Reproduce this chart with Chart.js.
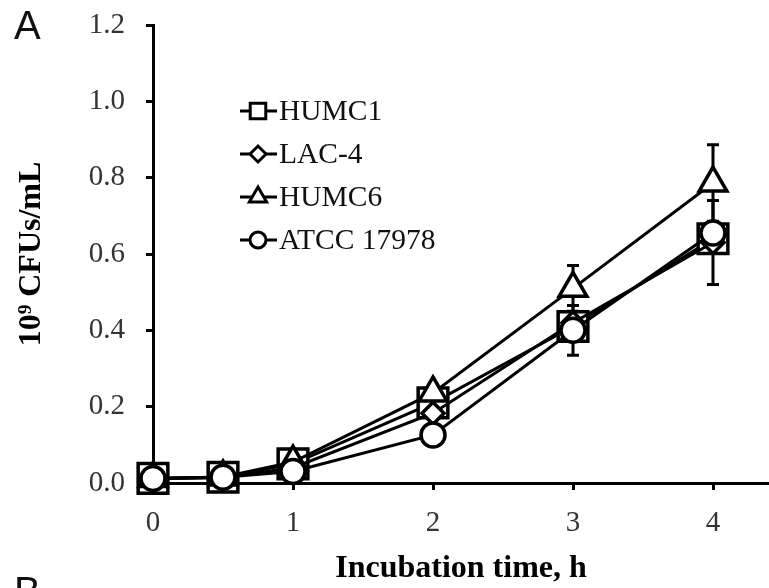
<!DOCTYPE html>
<html>
<head>
<meta charset="utf-8">
<script src="https://cdn.jsdelivr.net/npm/chart.js@4"></script>
<style>
  html, body { margin: 0; padding: 0; background: #fff; }
  canvas { display: block; }
</style>
</head>
<body>
<canvas id="growthChart" width="769" height="588"></canvas>
<script>
// time points (h)
const hours = [0, 0.5, 1, 2, 3, 4];
const xTicks = [0, 1, 2, 3, 4];

// 10^9 CFUs/mL per strain
const humc1 = [0.012, 0.015, 0.05, 0.21, 0.41, 0.64];
const lac4 = [0.012, 0.014, 0.04, 0.183, 0.42, 0.63];
const humc6 = [0.012, 0.016, 0.055, 0.236, 0.51, 0.786];
const atcc17978 = [0.012, 0.015, 0.03, 0.126, 0.40, 0.655];

// error bar half-widths (0 = none visible)
const humc1Err = [0, 0, 0, 0, 0, 0];
const lac4Err = [0, 0, 0, 0, 0, 0.11];
const humc6Err = [0, 0, 0, 0.02, 0.06, 0.10];
const atccErr = [0, 0, 0, 0, 0.065, 0.02];

const strainNames = ['HUMC1', 'LAC-4', 'HUMC6', 'ATCC 17978'];

const serif = "'Liberation Serif', 'Times New Roman', serif";

function toPoints(vals) {
    return hours.map((h, i) => ({ x: h, y: vals[i] }));
}

function makeSet(label, vals, errs, style, radius, order) {
    return {
        label: label,
        data: toPoints(vals),
        errors: errs,
        borderColor: '#000',
        borderWidth: 3,
        pointStyle: style,
        pointRadius: radius,
        pointBorderWidth: 3.5,
        pointBackgroundColor: '#fff',
        pointBorderColor: '#000',
        legendRadius: style === 'rect' ? 11 : (style === 'triangle' ? 10 : 8),
        order: order,
        clip: false,
        tension: 0
    };
}

// draw error bars under the markers
const errorBars = {
    id: 'errorBars',
    beforeDatasetsDraw(chart) {
        const ctx = chart.ctx;
        const xs = chart.scales.x, ys = chart.scales.y;
        ctx.save();
        ctx.strokeStyle = '#000';
        ctx.lineWidth = 3;
        chart.data.datasets.forEach(ds => {
            ds.data.forEach((p, i) => {
                const e = ds.errors[i];
                if (!e) return;
                const px = xs.getPixelForValue(p.x);
                const top = ys.getPixelForValue(p.y + e);
                const bot = ys.getPixelForValue(p.y - e);
                ctx.beginPath();
                ctx.moveTo(px, top); ctx.lineTo(px, bot);
                ctx.moveTo(px - 6, top); ctx.lineTo(px + 6, top);
                ctx.moveTo(px - 6, bot); ctx.lineTo(px + 6, bot);
                ctx.stroke();
            });
        });
        ctx.restore();
    }
};

// legend inside the plot, and panel letters
const insideLegend = {
    id: 'insideLegend',
    afterDraw(chart) {
        const ctx = chart.ctx;
        ctx.save();
        const rowY = [111, 154, 197, 240];
        strainNames.forEach((name, i) => {
            const ds = chart.data.datasets.find(d => d.label === name);
            const y = rowY[i];
            ctx.strokeStyle = '#000';
            ctx.lineWidth = 3;
            ctx.beginPath();
            ctx.moveTo(240, y); ctx.lineTo(277, y);
            ctx.stroke();
            ctx.fillStyle = '#fff';
            ctx.lineWidth = 3;
            Chart.helpers.drawPoint(ctx, {
                pointStyle: ds.pointStyle,
                radius: ds.legendRadius,
                rotation: 0,
                borderWidth: 3
            }, 258, y);
            ctx.fillStyle = '#111';
            ctx.font = '29.5px ' + serif;
            ctx.textAlign = 'left';
            ctx.textBaseline = 'middle';
            ctx.fillText(name, 279, y + 1);
        });

        ctx.fillStyle = '#111';
        ctx.font = "40px 'Liberation Sans', Arial, sans-serif";
        ctx.textBaseline = 'top';
        ctx.fillText('A', 14, 8);
        ctx.fillText('B', 14, 574);
        ctx.restore();
    }
};

const ctx = document.getElementById('growthChart').getContext('2d');

const chart = new Chart(ctx, {
    type: 'line',
    data: {
        datasets: [
            makeSet('HUMC1', humc1, humc1Err, 'rect', 21, 3),
            makeSet('LAC-4', lac4, lac4Err, 'rectRot', 11, 2),
            makeSet('HUMC6', humc6, humc6Err, 'triangle', 16, 1),
            makeSet('ATCC 17978', atcc17978, atccErr, 'circle', 12, 0)
        ]
    },
    options: {
        responsive: false,
        animation: false,
        events: [],
        layout: { autoPadding: false, padding: { top: 25, right: 0, left: 0, bottom: 0 } },
        plugins: {
            legend: { display: false },
            tooltip: { enabled: false }
        },
        scales: {
            x: {
                type: 'linear',
                min: 0,
                max: 4.4,
                afterBuildTicks: scale => {
                    scale.ticks = xTicks.map(v => ({ value: v }));
                },
                afterFit: scale => {
                    scale.height = 105;
                    scale.paddingLeft = 0;
                    scale.paddingRight = 0;
                },
                border: { display: true, color: '#000', width: 3 },
                grid: { drawOnChartArea: false, drawTicks: true, tickLength: 7, tickWidth: 3, tickColor: '#000' },
                ticks: {
                    color: '#333',
                    padding: 16,
                    maxRotation: 0,
                    font: { family: serif, size: 29 },
                    callback: v => String(v)
                },
                title: {
                    display: true,
                    text: 'Incubation time, h',
                    color: '#000',
                    font: { family: serif, size: 32, weight: 'bold' },
                    padding: { top: 0, bottom: 0 }
                }
            },
            y: {
                min: 0,
                max: 1.2,
                afterFit: scale => {
                    scale.width = 153;
                    scale.paddingTop = 0;
                    scale.paddingBottom = 0;
                },
                border: { display: true, color: '#000', width: 3 },
                grid: { drawOnChartArea: false, drawTicks: true, tickLength: 7, tickWidth: 3, tickColor: '#000' },
                ticks: {
                    stepSize: 0.2,
                    color: '#333',
                    padding: 21,
                    font: { family: serif, size: 29 },
                    callback: v => v.toFixed(1)
                },
                title: {
                    display: true,
                    text: '10⁹ CFUs/mL',
                    color: '#000',
                    font: { family: serif, size: 32, weight: 'bold' },
                    padding: { top: 13, bottom: 0 }
                }
            }
        }
    },
    plugins: [errorBars, insideLegend]
});
</script>
</body>
</html>
